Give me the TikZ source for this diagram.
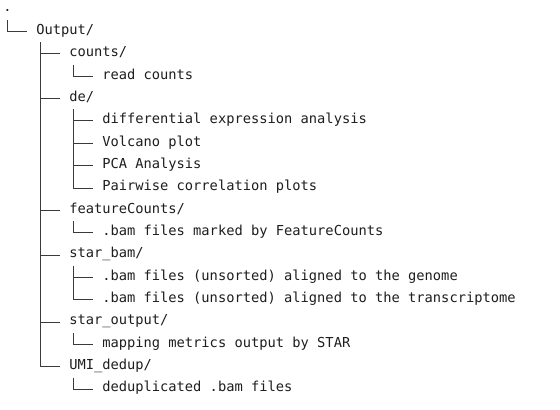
\documentclass[tikz,border=0pt]{standalone}
\usepackage{fontspec}
\setmonofont{DejaVu Sans Mono}
\usetikzlibrary{calc}
\definecolor{treeline}{HTML}{3A3A3A}
\definecolor{treetext}{HTML}{1E1E1E}
% one branch of the tree: vertical from the parent, then across to the child
\newcommand\treebranch[2]{\draw[conn] ($(#1.base west)+(4.1,8)$) |- ($(#2.base west)+(-8.6,-2.8)$);}
\begin{document}
\begin{tikzpicture}[x=0.75pt,y=-0.75pt,
  entry/.style={anchor=base west,inner sep=0pt,text=treetext,
    font=\ttfamily\fontsize{10.3pt}{12pt}\selectfont},
  conn/.style={draw=treeline,line width=0.75pt}]
\fill[white] (0,0) rectangle (560,410);
\useasboundingbox (0,0) rectangle (560,410);

% columns: 3 + 8.25*k ; baselines: 12 + 22.35*row
\node[entry] (root)  at (3,12)      {.};
\node[entry] (out)   at (36,34.35)  {Output/};
\node[entry] (cnt)   at (69,56.7)   {counts/};
\node[entry] (cnt1)  at (102,79.05) {read counts};
\node[entry] (de)    at (69,101.4)  {de/};
\node[entry] (de1)   at (102,123.75){differential expression analysis};
\node[entry] (de2)   at (102,146.1) {Volcano plot};
\node[entry] (de3)   at (102,168.45){PCA Analysis};
\node[entry] (de4)   at (102,190.8) {Pairwise correlation plots};
\node[entry] (fc)    at (69,213.15) {featureCounts/};
\node[entry] (fc1)   at (102,235.5) {.bam files marked by FeatureCounts};
\node[entry] (sb)    at (69,257.85) {star\_bam/};
\node[entry] (sb1)   at (102,280.2) {.bam files (unsorted) aligned to the genome};
\node[entry] (sb2)   at (102,302.55){.bam files (unsorted) aligned to the transcriptome};
\node[entry] (so)    at (69,324.9)  {star\_output/};
\node[entry] (so1)   at (102,347.25){mapping metrics output by STAR};
\node[entry] (umi)   at (69,369.6)  {UMI\_dedup/};
\node[entry] (umi1)  at (102,391.95){deduplicated .bam files};

\treebranch{root}{out}
\treebranch{out}{cnt}
\treebranch{out}{de}
\treebranch{out}{fc}
\treebranch{out}{sb}
\treebranch{out}{so}
\treebranch{out}{umi}
\treebranch{cnt}{cnt1}
\treebranch{de}{de1}
\treebranch{de}{de2}
\treebranch{de}{de3}
\treebranch{de}{de4}
\treebranch{fc}{fc1}
\treebranch{sb}{sb1}
\treebranch{sb}{sb2}
\treebranch{so}{so1}
\treebranch{umi}{umi1}
\end{tikzpicture}
\end{document}
